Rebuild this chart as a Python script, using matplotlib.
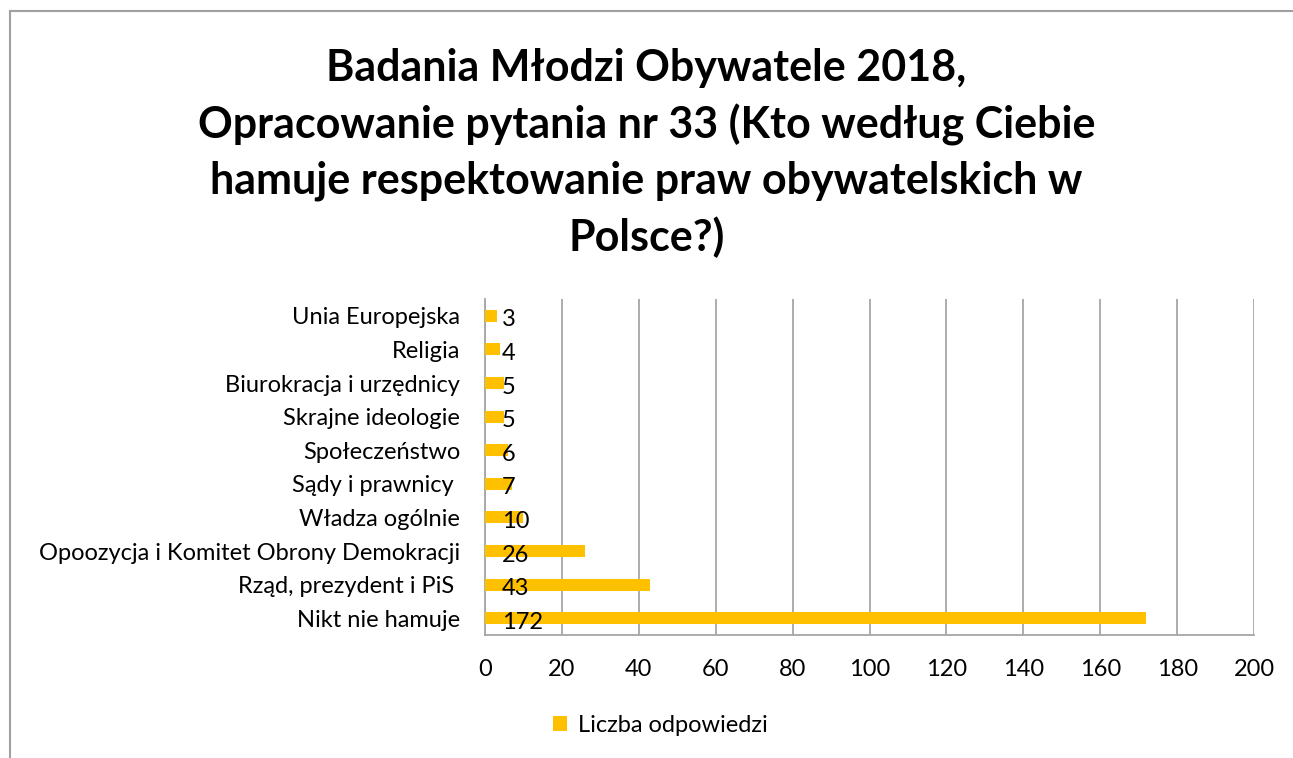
import matplotlib
matplotlib.use("Agg")
import matplotlib.pyplot as plt
from matplotlib.lines import Line2D
from matplotlib.patches import Patch

plt.rcParams['font.family'] = ['Lato', 'DejaVu Sans']

# answers, bottom to top
categories = ['Nikt nie hamuje', 'Rząd, prezydent i PiS ',
              'Opoozycja i Komitet Obrony Demokracji', 'Władza ogólnie',
              'Sądy i prawnicy ', 'Społeczeństwo', 'Skrajne ideologie',
              'Biurokracja i urzędnicy', 'Religia', 'Unia Europejska']
counts = [172, 43, 26, 10, 7, 6, 5, 5, 4, 3]
xticks = [0, 20, 40, 60, 80, 100, 120, 140, 160, 180, 200]

title = ('Badania Młodzi Obywatele 2018,\n'
         'Opracowanie pytania nr 33 (Kto według Ciebie\n'
         'hamuje respektowanie praw obywatelskich w\n'
         'Polsce?)')

bar_color = '#FFC000'
grid_color = '#A6A6A6'

W, H = 1293, 758
fig = plt.figure(figsize=(W / 100, H / 100), dpi=100)

# chart frame (only top and left edges fall inside the image)
fig.add_artist(Line2D([10 / W, 1.0], [1 - 11 / H, 1 - 11 / H], color='#A0A0A0', lw=1.5))
fig.add_artist(Line2D([10 / W, 10 / W], [0, 1 - 11 / H], color='#A0A0A0', lw=1.5))

ax = fig.add_axes([485 / W, 1 - 635 / H, (1254 - 485) / W, (635 - 299) / H])

y = range(len(categories))
ax.barh(y, counts, height=0.36, color=bar_color, zorder=3)
ax.set_ylim(-0.5, len(categories) - 0.5)
ax.set_xlim(0, 200)
ax.set_xticks(xticks)
ax.set_yticks(list(y))
ax.set_yticklabels(categories, fontsize=17)
ax.tick_params(axis='x', labelsize=17, length=0, pad=17)
ax.tick_params(axis='y', length=0, pad=18)
ax.xaxis.grid(True, color=grid_color, lw=1.3, zorder=0)

for side in ['top', 'right']:
    ax.spines[side].set_visible(False)
for side in ['left', 'bottom']:
    ax.spines[side].set_color(grid_color)
    ax.spines[side].set_linewidth(1.3)

for i, v in enumerate(counts):
    ax.annotate(str(v), (0, i), xytext=(12, -3), textcoords='offset points',
                ha='left', va='center', fontsize=17, zorder=4)

fig.text(0.5, 1 - 153 / H, title, ha='center', va='center', fontsize=31,
         fontweight='bold', linespacing=1.45)

handle = Patch(facecolor=bar_color, edgecolor='none')
fig.legend([handle], ['Liczba odpowiedzi'], loc='center', bbox_to_anchor=(660 / W, 1 - 725 / H),
           frameon=False, fontsize=17, handlelength=0.6, handleheight=0.6, handletextpad=0.45)

fig.savefig('out.png', dpi=100)
